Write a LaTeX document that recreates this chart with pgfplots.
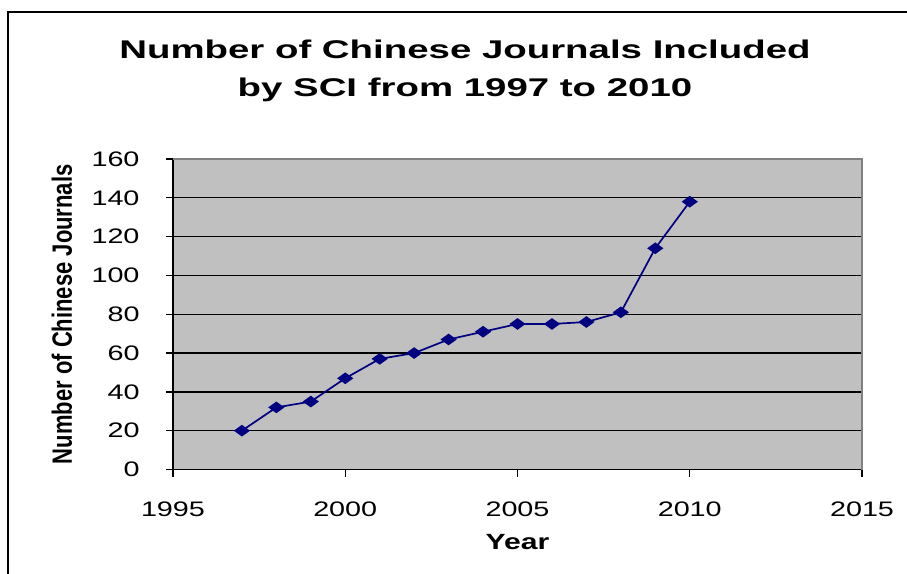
\documentclass[border=0pt]{standalone}
\usepackage{fontspec}
\setmainfont{Liberation Sans}[FakeStretch=1.37]
\newfontfamily\titlefont{Liberation Sans}[FakeStretch=1.5]
\newfontfamily\plainfont{Liberation Sans}
\usepackage{pgfplots}
\pgfplotsset{compat=1.18}
\definecolor{plotgray}{HTML}{C0C0C0}
\definecolor{bordergray}{HTML}{808080}
\definecolor{navyline}{HTML}{000080}
\begin{document}
\begin{tikzpicture}
\useasboundingbox (0bp,0bp) rectangle (907bp,574bp);
\draw[line width=2bp] (8.3bp,561.7bp) rectangle (940bp,-20bp);
\node[font=\titlefont\bfseries\fontsize{25.6bp}{30bp}\selectfont, anchor=base, inner sep=0pt] at (465bp,515.7bp) {Number of Chinese Journals Included};
\node[font=\titlefont\bfseries\fontsize{25.6bp}{30bp}\selectfont, anchor=base, inner sep=0pt] at (465bp,477bp) {by SCI from 1997 to 2010};
\begin{axis}[
  at={(173bp,104.5bp)}, anchor=south west,
  width=689bp, height=310.5bp, scale only axis,
  xmin=1995, xmax=2015, ymin=0, ymax=160,
  xtick={1995,2000,...,2015}, ytick={0,20,...,160},
  minor tick num=0,
  axis x line*=bottom, axis y line*=left,
  axis line style={black, line width=1.3bp},
  tick align=outside, major tick length=7bp,
  tick style={black, line width=1.3bp},
  ymajorgrids, grid style={black, line width=1.3bp},
  axis background/.style={fill=plotgray},
  /pgf/number format/1000 sep={},
  /pgf/number format/assume math mode=true,
  ticklabel style={font=\fontsize{21bp}{25bp}\selectfont, inner sep=0pt},
  xticklabel style={anchor=north, yshift=-25.5bp},
  yticklabel style={anchor=east, xshift=-26.3bp},
  xlabel={Year},
  ylabel={\scalebox{1}[1.27]{Number of Chinese Journals}},
  every axis x label/.style={at={(axis description cs:0.5,0)}, anchor=base, yshift=-79.5bp, inner sep=0pt, font=\bfseries\fontsize{22bp}{26bp}\selectfont},
  every axis y label/.style={at={(axis description cs:0,0.5)}, xshift=-101bp, rotate=90, anchor=base, inner sep=0pt, font=\plainfont\bfseries\fontsize{22bp}{26bp}\selectfont},
  clip=false,
]
\draw[bordergray, line width=1.5bp] (rel axis cs:0,1) -- (rel axis cs:1,1) -- (rel axis cs:1,0);
\addplot[navyline, line width=1.7bp, mark=diamond*, mark size=4.8bp, mark options={xscale=1.85, solid, fill=navyline}]
coordinates {
(1997,20) (1998,32) (1999,35) (2000,47) (2001,57) (2002,60) (2003,67)
(2004,71) (2005,75) (2006,75) (2007,76) (2008,81) (2009,114) (2010,138)
};
\end{axis}
\end{tikzpicture}
\end{document}
